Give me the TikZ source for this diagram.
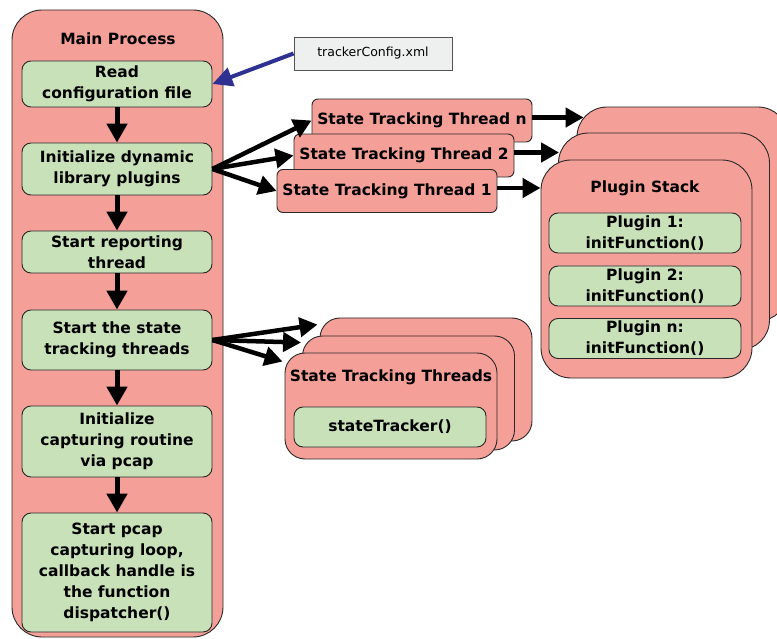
\documentclass[tikz,border=0pt]{standalone}
\usepackage{fontspec}
\setmainfont{DejaVu Sans}
\usetikzlibrary{arrows.meta,calc}
\definecolor{procpink}{RGB}{244,160,152}
\definecolor{stepgreen}{RGB}{200,225,185}
\definecolor{edgegray}{RGB}{40,40,40}
\definecolor{filegray}{RGB}{238,240,240}
\definecolor{cfgblue}{RGB}{46,49,146}
\tikzset{
  lbl/.style={font=\fontsize{15.5}{21}\selectfont\bfseries, align=center, inner sep=0pt},
  container/.style={draw=edgegray, line width=0.9pt, fill=procpink, rounded corners=#1, inner sep=0pt},
  container/.default=30pt,
  stepbox/.style={draw=edgegray, line width=0.9pt, fill=stepgreen, rounded corners=9pt,
    lbl, minimum width=#1},
  stepbox/.default=190pt,
  threadbox/.style={draw=edgegray, line width=0.9pt, fill=procpink, rounded corners=6pt,
    lbl, minimum width=220pt, minimum height=43pt},
  filebox/.style={draw=edgegray!80, line width=0.9pt, fill=filegray, inner sep=0pt,
    minimum width=158pt, minimum height=33pt, font=\fontsize{12.5}{15}\selectfont},
  flow/.style={line width=5pt, -{Triangle[length=19pt,width=20pt]}},
  sideflow/.style={line width=4.5pt, -{Triangle[length=18pt,width=19pt]}},
  cfgflow/.style={draw=cfgblue, line width=4pt, -{Triangle[length=20pt,width=19pt]}},
}
\begin{document}
\begin{tikzpicture}[x=1pt,y=-1pt]
  \useasboundingbox (0,0) rectangle (777,639);

  % main process column
  \node[container, minimum width=211pt, minimum height=627pt] (main) at (117.5,323.5) {};
  \node[lbl] (maintitle) at (118,39) {Main Process};
  \node[stepbox, minimum height=46pt] (read)   at (117,84)    {Read\\configuration file};
  \node[stepbox, minimum height=52pt] (init)   at (117,169)   {Initialize dynamic\\library plugins};
  \node[stepbox, minimum height=42pt] (report) at (117,252)   {Start reporting\\thread};
  \node[stepbox, minimum height=60pt] (start)  at (117,340)   {Start the state\\tracking threads};
  \node[stepbox, minimum height=71pt] (cap)    at (117,441.5) {Initialize\\capturing routine\\via pcap};
  \node[stepbox, minimum height=119pt] (loop)  at (117,572.5) {Start pcap\\capturing loop,\\callback handle is\\the function\\dispatcher()};

  \draw[flow] (read) -- (init);
  \draw[flow] (init) -- (report);
  \draw[flow] (report) -- (start);
  \draw[flow] (start) -- (cap);
  \draw[flow] (cap) -- (loop);

  % configuration file
  \node[filebox] (cfg) at (373,53.5) {trackerConfig.xml};
  \draw[cfgflow] (cfg.west) -- (read.east);

  % plugin stack
  \node[container, minimum width=211pt, minimum height=214pt] (pb) at (682.5,214) {};
  \node[container, minimum width=211pt, minimum height=217pt] (pm) at (664,241.5) {};
  \node[container, minimum width=211pt, minimum height=218pt] (pf) at (646.5,269) {};
  \node[lbl] (pstitle) at (645,188) {Plugin Stack};
  \node[stepbox=192pt, minimum height=40pt] (p1) at (645,233) {Plugin 1:\\initFunction()};
  \node[stepbox=192pt, minimum height=40pt] (p2) at (645,286) {Plugin 2:\\initFunction()};
  \node[stepbox=192pt, minimum height=40pt] (pn) at (645,338.5) {Plugin n:\\initFunction()};

  % state tracking threads
  \node[threadbox] (tn) at (422,120.5) {State Tracking Thread n};
  \node[threadbox] (t2) at (404,155.5) {State Tracking Thread 2};
  \node[threadbox] (t1) at (387,191)   {State Tracking Thread 1};

  \draw[sideflow] (init.east) -- (tn.west);
  \draw[sideflow] (init.east) -- (t2.west);
  \draw[sideflow] (init.east) -- (t1.west);

  \draw[sideflow, shorten >=-7pt] ($(tn.east)+(0,-3)$) -- ($(tn.east -| pb.west)+(0,-3)$);
  \draw[sideflow, shorten >=-1pt] ($(t2.east)+(0,-3)$) -- ($(t2.east -| pm.west)+(0,-3)$);
  \draw[sideflow] ($(t1.east)+(0,-3)$) -- ($(t1.east -| pf.west)+(0,-3)$);

  % state tracking thread stack
  \node[container=20pt, minimum width=212pt, minimum height=123pt] (sb) at (426,379.5) {};
  \node[container=20pt, minimum width=212pt, minimum height=114pt] (sm) at (408.5,393) {};
  \node[container=20pt, minimum width=212pt, minimum height=106pt] (sf) at (391,406) {};
  \node[lbl] (sttitle) at (391,377) {State Tracking Threads};
  \node[stepbox=192pt, minimum height=40pt] (tracker) at (390,427) {stateTracker()};

  \draw[sideflow] (start.east) -- ($(sb.north west)+(-2,7)$);
  \draw[sideflow] (start.east) -- ($(sm.north west)+(-1,7)$);
  \draw[sideflow] (start.east) -- ($(sf.north west)+(-2,9)$);
\end{tikzpicture}
\end{document}
